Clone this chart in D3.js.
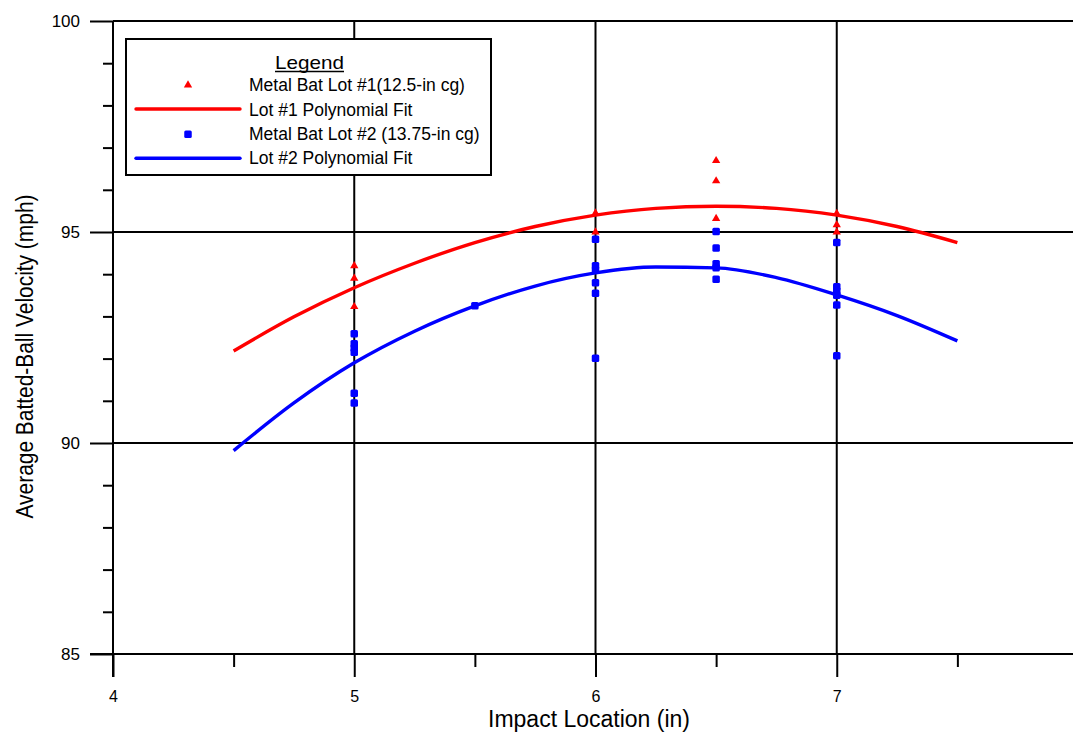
<!DOCTYPE html>
<html><head><meta charset="utf-8">
<script src="https://cdn.jsdelivr.net/npm/d3@7"></script>
<style>body{margin:0;background:#fff}svg{display:block;font-family:"Liberation Sans",Arial,sans-serif}</style>
</head><body><svg id="c" width="1073" height="732"></svg>
<script>
// Data
const lot1X = [5,5,5, 6,6, 6.5,6.5,6.5, 7,7,7];
const lot1Y = [94.2,93.9,93.23, 95.45,95.0, 96.69,96.21,95.32, 95.44,95.17,95.0];
const lot2X = [5,5,5,5,5,5, 5.5, 6,6,6,6,6,6, 6.5,6.5,6.5,6.5,6.5, 7,7,7,7,7,7];
const lot2Y = [92.59,92.35,92.25,92.15,91.18,90.95, 93.25, 94.83,94.2,94.1,93.8,93.55,92.01, 95.01,94.62,94.25,94.15,93.88, 94.75,93.7,93.6,93.5,93.27,92.07];
const fitX  = [4.5,4.75,5,5.25,5.5,5.75,6,6.25,6.5,6.75,7,7.25,7.5];
const fit1Y = [92.18,92.99,93.68,94.26,94.75,95.13,95.40,95.56,95.61,95.56,95.40,95.13,94.75];
const fit2Y = [89.82,90.95,91.9,92.65,93.25,93.72,94.03,94.17,94.15,93.92,93.51,93.02,92.42];
const xMajor = [4,5,6,7];
const xMinor = [4.5,5.5,6.5,7.5];
const yMajor = [85,90,95,100];
const yMinor = [86,87,88,89,91,92,93,94,96,97,98,99];
const legendLabels = ["Metal Bat Lot #1(12.5-in cg)","Lot #1 Polynomial Fit","Metal Bat Lot #2 (13.75-in cg)","Lot #2 Polynomial Fit"];

const svg = d3.select("#c");
const x = d3.scaleLinear().domain([4,8]).range([113,1078]);
const y = d3.scaleLinear().domain([85,100]).range([654,21]);
const W = 1073;

// grid
const g = svg.append("g");
g.selectAll(".vg").data(xMajor.slice(1)).join("line")
  .attr("x1",d=>x(d)).attr("x2",d=>x(d)).attr("y1",y(100)).attr("y2",y(85))
  .attr("stroke","#000").attr("stroke-width",2);
g.selectAll(".hg").data(yMajor.slice(1)).join("line")
  .attr("x1",x(4)).attr("x2",W).attr("y1",d=>y(d)).attr("y2",d=>y(d))
  .attr("stroke","#000").attr("stroke-width",2);

// axes
const xAxis = d3.axisBottom(x).tickValues(xMajor).tickFormat(d3.format("d")).tickSize(23).tickPadding(14);
const xa = svg.append("g").attr("transform",`translate(0,${y(85)})`).call(xAxis);
const xAxisMinor = d3.axisBottom(x).tickValues(xMinor).tickFormat("").tickSize(13);
const xm = svg.append("g").attr("transform",`translate(0,${y(85)})`).call(xAxisMinor);
const yAxis = d3.axisLeft(y).tickValues(yMajor).tickFormat(d3.format("d")).tickSize(23).tickPadding(10);
const ya = svg.append("g").attr("transform",`translate(${x(4)},0)`).call(yAxis);
const yAxisMinor = d3.axisLeft(y).tickValues(yMinor).tickFormat("").tickSize(10);
const ym = svg.append("g").attr("transform",`translate(${x(4)},0)`).call(yAxisMinor);
[xa,xm,ya,ym].forEach(a=>{
  a.attr("font-family","Liberation Sans, Arial, sans-serif");
  a.select(".domain").remove();
  a.selectAll(".tick line").attr("stroke","#000").attr("stroke-width",2);
  a.selectAll(".tick text").attr("fill","#000");
});
xa.selectAll(".tick text").attr("font-size",16);
ya.selectAll(".tick text").attr("font-size",17);
svg.append("line").attr("x1",x(4)-23).attr("x2",W).attr("y1",y(85)).attr("y2",y(85)).attr("stroke","#000").attr("stroke-width",2);
svg.append("line").attr("x1",x(4)).attr("x2",x(4)).attr("y1",y(100)).attr("y2",y(85)+23).attr("stroke","#000").attr("stroke-width",2);

// fits
const lineG = d3.line().x(d=>x(d[0])).y(d=>y(d[1])).curve(d3.curveMonotoneX);
svg.append("path").datum(fitX.map((v,i)=>[v,fit1Y[i]])).attr("d",lineG)
  .attr("fill","none").attr("stroke","#ff0000").attr("stroke-width",3.4);
svg.append("path").datum(fitX.map((v,i)=>[v,fit2Y[i]])).attr("d",lineG)
  .attr("fill","none").attr("stroke","#0000ff").attr("stroke-width",3.4);

// markers
const tri = d3.symbol().type(d3.symbolTriangle).size(30);
svg.selectAll(".p1").data(lot1X.map((v,i)=>[v,lot1Y[i]])).join("path")
  .attr("d",tri).attr("transform",d=>`translate(${x(d[0])},${y(d[1])})`).attr("fill","#ff0000");
svg.selectAll(".p2").data(lot2X.map((v,i)=>[v,lot2Y[i]])).join("rect")
  .attr("x",d=>x(d[0])-3.75).attr("y",d=>y(d[1])-3.75).attr("width",7.5).attr("height",7.5).attr("rx",1.5)
  .attr("fill","#0000ff");

// legend
const lg = svg.append("g");
lg.append("rect").attr("x",126).attr("y",39).attr("width",365).attr("height",136)
  .attr("fill","#fff").attr("stroke","#000").attr("stroke-width",2);
lg.append("text").attr("x",309.5).attr("y",68.5).attr("text-anchor","middle").attr("font-size",19)
  .attr("textLength",69).attr("lengthAdjust","spacingAndGlyphs").text("Legend");
lg.append("line").attr("x1",275).attr("x2",344).attr("y1",71.5).attr("y2",71.5).attr("stroke","#000").attr("stroke-width",1.3);
const symRows = [85,109,134.3,158.3];
const txtRows = [91,116.3,140.3,164.3];
lg.selectAll(".lt").data(legendLabels).join("text").attr("x",249).attr("y",(d,i)=>txtRows[i])
  .attr("font-size",17.5).text(d=>d);
lg.append("path").attr("d",tri).attr("transform",`translate(188,${symRows[0]})`).attr("fill","#ff0000");
lg.append("line").attr("x1",136).attr("x2",240).attr("y1",symRows[1]).attr("y2",symRows[1]).attr("stroke","#ff0000").attr("stroke-width",3.4).attr("stroke-linecap","round");
lg.append("rect").attr("x",184.25).attr("y",symRows[2]-3.75).attr("width",7.5).attr("height",7.5).attr("rx",1.5).attr("fill","#0000ff");
lg.append("line").attr("x1",136).attr("x2",240).attr("y1",symRows[3]).attr("y2",symRows[3]).attr("stroke","#0000ff").attr("stroke-width",3.4).attr("stroke-linecap","round");

// axis labels
svg.append("text").attr("x",589).attr("y",726.5).attr("text-anchor","middle").attr("font-size",23).text("Impact Location (in)");
svg.append("text").attr("transform","translate(33,356.5) rotate(-90)").attr("text-anchor","middle").attr("font-size",23)
  .attr("textLength",324).attr("lengthAdjust","spacingAndGlyphs").text("Average Batted-Ball Velocity (mph)");
</script></body></html>
